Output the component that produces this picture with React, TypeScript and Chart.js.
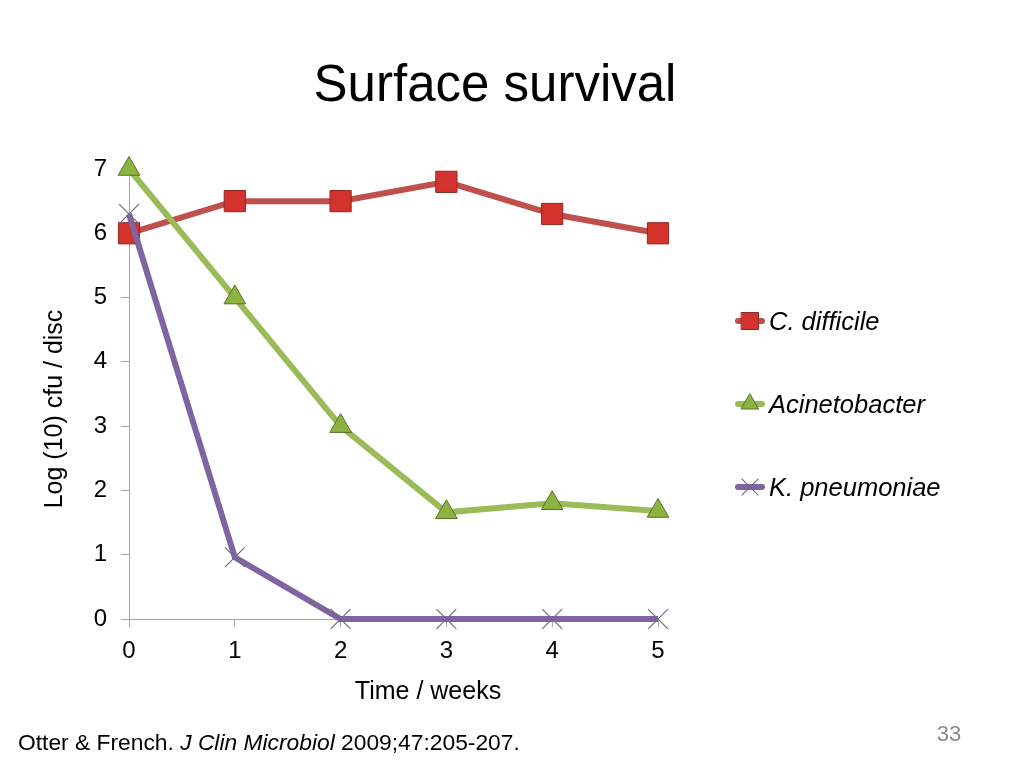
import React, { useEffect, useRef } from 'react';
import { Chart, registerables } from 'chart.js';
import { drawPoint } from 'chart.js/helpers';

Chart.register(...registerables);

const FONT = "'Liberation Sans', Arial, Helvetica, sans-serif";

const chartTitle = 'Surface survival';
const xAxisTitle = 'Time / weeks';
const yAxisTitle = 'Log (10) cfu / disc';
const citationParts = [
  { text: 'Otter & French. ', italic: false },
  { text: 'J Clin Microbiol', italic: true },
  { text: ' 2009;47:205-207.', italic: false },
];
const pageNumber = '33';

const weeks = [0, 1, 2, 3, 4, 5];
const seriesNames = ['C. difficile', 'Acinetobacter', 'K. pneumoniae'];
const cDifficile = [6.0, 6.5, 6.5, 6.8, 6.3, 6.0];
const acinetobacter = [7.0, 5.0, 3.0, 1.66, 1.8, 1.68];
const kPneumoniae = [6.3, 0.96, 0, 0, 0, 0];

const xMin = 0;
const xMax = 5;
const yMin = 0;
const yMax = 7;

const toPoints = (vals: number[]) => vals.map((v, i) => ({ x: weeks[i], y: v }));

const decorPlugin = {
  id: 'decor',
  afterDraw(chart: any) {
    const ctx: CanvasRenderingContext2D = chart.ctx;
    ctx.save();
    // Title
    ctx.fillStyle = '#000';
    ctx.textAlign = 'center';
    ctx.textBaseline = 'alphabetic';
    ctx.font = `51px ${FONT}`;
    ctx.fillText(chartTitle, 495, 101);

    // X axis title
    ctx.font = `25px ${FONT}`;
    ctx.fillText(xAxisTitle, 428, 699);

    // Y axis title
    ctx.save();
    ctx.translate(62, 409);
    ctx.rotate(-Math.PI / 2);
    ctx.fillText(yAxisTitle, 0, 0);
    ctx.restore();

    // Legend
    const metas = chart.data.datasets;
    metas.forEach((ds: any, i: number) => {
      const y = 321 + i * 83;
      ctx.save();
      ctx.strokeStyle = ds.borderColor;
      ctx.lineWidth = 6;
      ctx.lineCap = 'round';
      ctx.beginPath();
      ctx.moveTo(738, y);
      ctx.lineTo(762, y);
      ctx.stroke();
      ctx.fillStyle = ds.pointBackgroundColor;
      ctx.strokeStyle = ds.pointBorderColor;
      ctx.lineWidth = ds.pointBorderWidth;
      drawPoint(ctx, {
        pointStyle: ds.pointStyle,
        radius: ds.pointRadius * 0.8,
        borderWidth: ds.pointBorderWidth,
        rotation: 0,
      }, 750, y);
      ctx.restore();
      ctx.fillStyle = '#000';
      ctx.textAlign = 'left';
      ctx.font = `italic 25.5px ${FONT}`;
      ctx.fillText(ds.label, 769, y + 9);
    });

    // Citation
    let x = 18;
    ctx.textAlign = 'left';
    citationParts.forEach((p) => {
      ctx.font = `${p.italic ? 'italic ' : ''}22.8px ${FONT}`;
      ctx.fillText(p.text, x, 750);
      x += ctx.measureText(p.text).width;
    });

    // Page number
    ctx.fillStyle = '#8a8a8a';
    ctx.textAlign = 'center';
    ctx.font = `22px ${FONT}`;
    ctx.fillText(pageNumber, 949, 741);
    ctx.restore();
  },
};

export default function App() {
  const ref = useRef<HTMLCanvasElement>(null);
  useEffect(() => {
    if (!ref.current) return;
    Chart.defaults.font.family = FONT;
    const chart = new Chart(ref.current, {
      type: 'line',
      data: {
        datasets: [
          {
            label: seriesNames[0],
            data: toPoints(cDifficile),
            borderColor: '#C0504D',
            borderWidth: 6,
            pointStyle: 'rect',
            pointRadius: 15,
            pointBackgroundColor: '#D3322D',
            pointBorderColor: '#8E2A26',
            pointBorderWidth: 1,
            order: 3,
            clip: false,
            tension: 0,
          },
          {
            label: seriesNames[1],
            data: toPoints(acinetobacter),
            borderColor: '#9BBB59',
            borderWidth: 6,
            pointStyle: 'triangle',
            pointRadius: 12.5,
            pointBackgroundColor: '#8CB33F',
            pointBorderColor: '#55702A',
            pointBorderWidth: 1,
            order: 2,
            clip: false,
            tension: 0,
          },
          {
            label: seriesNames[2],
            data: toPoints(kPneumoniae),
            borderColor: '#8064A2',
            borderWidth: 6,
            pointStyle: 'crossRot',
            pointRadius: 14,
            pointBackgroundColor: '#6F6A88',
            pointBorderColor: '#6F6A88',
            pointBorderWidth: 1.2,
            order: 1,
            clip: false,
            tension: 0,
          },
        ] as any,
      },
      options: {
        animation: false,
        responsive: false,
        maintainAspectRatio: false,
        events: [],
        layout: { padding: { left: 0, top: 169, right: 366, bottom: 0 } },
        plugins: {
          legend: { display: false },
          title: { display: false },
          tooltip: { enabled: false },
        },
        scales: {
          x: {
            type: 'linear',
            min: xMin,
            max: xMax,
            afterFit: (s: any) => { s.height = 149; },
            ticks: {
              stepSize: 1,
              color: '#000',
              padding: 10,
              font: { size: 24, family: FONT },
              maxRotation: 0,
            },
            grid: {
              drawOnChartArea: false,
              drawTicks: true,
              tickLength: 8,
              color: '#a6a6a6',
            },
            border: { display: true, color: '#a6a6a6', width: 1 },
          },
          y: {
            type: 'linear',
            min: yMin,
            max: yMax,
            afterFit: (s: any) => { s.width = 129; },
            ticks: {
              stepSize: 1,
              color: '#000',
              padding: 14,
              font: { size: 24, family: FONT },
            },
            grid: {
              drawOnChartArea: false,
              drawTicks: true,
              tickLength: 8,
              color: '#a6a6a6',
            },
            border: { display: true, color: '#a6a6a6', width: 1 },
          },
        },
      } as any,
      plugins: [decorPlugin],
    });
    return () => chart.destroy();
  }, []);
  return (
    <div style={{ position: 'absolute', left: 0, top: 0, width: 1024, height: 768, background: '#fff' }}>
      <canvas ref={ref} width={1024} height={768} style={{ display: 'block' }} />
    </div>
  );
}
